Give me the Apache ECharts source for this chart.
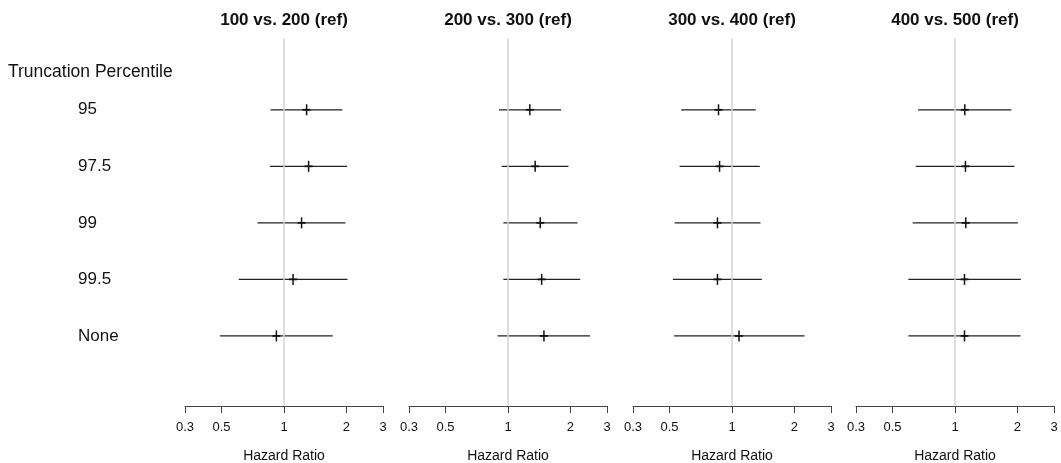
<!DOCTYPE html>
<html>
<head>
<meta charset="utf-8">
<script src="https://cdn.jsdelivr.net/npm/echarts@6/dist/echarts.min.js"></script>
<style>html,body{margin:0;padding:0;background:#fff}#c{width:1061px;height:463px}</style>
</head>
<body>
<div id="c"></div>
<script>
const panelTitles = ['100 vs. 200 (ref)', '200 vs. 300 (ref)', '300 vs. 400 (ref)', '400 vs. 500 (ref)'];
const rowLabels = ['95', '97.5', '99', '99.5', 'None'];
const tickValues = [1 / 3, 0.5, 1, 2, 3];
const axisMin = 1 / 3;
const axisMax = 3;

const est100 = [1.285, 1.314, 1.215, 1.106, 0.919];
const lo100  = [0.862, 0.855, 0.745, 0.605, 0.491];
const hi100  = [1.912, 2.016, 1.978, 2.022, 1.718];

const est200 = [1.274, 1.352, 1.430, 1.453, 1.490];
const lo200  = [0.904, 0.932, 0.950, 0.950, 0.891];
const hi200  = [1.803, 1.956, 2.163, 2.229, 2.485];

const est300 = [0.861, 0.871, 0.851, 0.851, 1.081];
const lo300  = [0.569, 0.559, 0.529, 0.519, 0.526];
const hi300  = [1.302, 1.361, 1.372, 1.392, 2.236];

const est400 = [1.115, 1.123, 1.127, 1.111, 1.111];
const lo400  = [0.664, 0.647, 0.625, 0.596, 0.596];
const hi400  = [1.870, 1.934, 2.009, 2.077, 2.068];

const panelData = [
  [est100, lo100, hi100],
  [est200, lo200, hi200],
  [est300, lo300, hi300],
  [est400, lo400, hi400]
];

const FONT = '"Liberation Sans", Arial, Helvetica, sans-serif';
const gridLefts = [185, 409, 633, 856];
const gridWidth = 198;

const chart = echarts.init(document.getElementById('c'), null, {renderer: 'canvas'});

const grids = [], xAxes = [], yAxes = [], series = [], graphics = [];
panelTitles.forEach((t, i) => {
  grids.push({left: gridLefts[i], width: gridWidth, top: 38, height: 368, containLabel: false, outerBoundsMode: 'none'});
  xAxes.push({
    gridIndex: i, type: 'log', logBase: 10, min: axisMin, max: axisMax, position: 'bottom',
    axisLine: {show: true, onZero: false, lineStyle: {color: '#444', width: 1}},
    axisTick: {show: true, length: 7, inside: false, customValues: tickValues, lineStyle: {color: '#444', width: 1}},
    axisLabel: {customValues: tickValues, margin: 15, fontSize: 13, color: '#111', fontFamily: FONT,
      formatter: v => String(+(+v).toPrecision(1))},
    minorTick: {show: false}, splitLine: {show: false}, minorSplitLine: {show: false},
    name: 'Hazard Ratio', nameLocation: 'middle', nameGap: 43,
    nameTextStyle: {fontSize: 14, color: '#111', fontFamily: FONT}
  });
  yAxes.push({
    gridIndex: i, type: 'value', min: -1.27, max: 5.24, inverse: true,
    axisLine: {show: false}, axisTick: {show: false}, splitLine: {show: false},
    axisLabel: i === 0 ? {show: true, customValues: [0, 1, 2, 3, 4], align: 'left', margin: 107,
      fontSize: 17, color: '#111', fontFamily: FONT, formatter: v => rowLabels[Math.round(v)]} : {show: false}
  });
  const [est, lo, hi] = panelData[i];
  const data = rowLabels.map((r, k) => [k, lo[k], est[k], hi[k]]);
  series.push({
    type: 'custom', xAxisIndex: i, yAxisIndex: i, data: data,
    encode: {x: [1, 2, 3], y: 0},
    renderItem: function (params, api) {
      const y = api.value(0);
      const p0 = api.coord([api.value(1), y]);
      const pe = api.coord([api.value(2), y]);
      const p1 = api.coord([api.value(3), y]);
      return {type: 'group', children: [
        {type: 'line', shape: {x1: p0[0], y1: p0[1], x2: p1[0], y2: p1[1]}, style: {stroke: '#222', lineWidth: 1.2}},
        {type: 'line', shape: {x1: pe[0] - 4, y1: pe[1], x2: pe[0] + 4, y2: pe[1]}, style: {stroke: '#111', lineWidth: 1.8}},
        {type: 'line', shape: {x1: pe[0], y1: pe[1] - 5.5, x2: pe[0], y2: pe[1] + 5.5}, style: {stroke: '#111', lineWidth: 1.5}}
      ]};
    },
    markLine: {silent: true, symbol: 'none', label: {show: false}, animation: false,
      lineStyle: {color: '#d4d4d4', width: 1.5, type: 'solid'}, data: [{xAxis: 1}]},
    z: 3
  });
  graphics.push({type: 'text', x: gridLefts[i] + gridWidth / 2, y: 20,
    style: {text: t, align: 'center', verticalAlign: 'middle', font: 'bold 17px ' + FONT, fill: '#111'}});
});
graphics.push({type: 'text', x: 8, y: 72,
  style: {text: 'Truncation Percentile', align: 'left', verticalAlign: 'middle', font: '17.5px ' + FONT, fill: '#111'}});

chart.setOption({
  animation: false,
  backgroundColor: '#fff',
  grid: grids, xAxis: xAxes, yAxis: yAxes, series: series, graphic: graphics
});
</script>
</body>
</html>
